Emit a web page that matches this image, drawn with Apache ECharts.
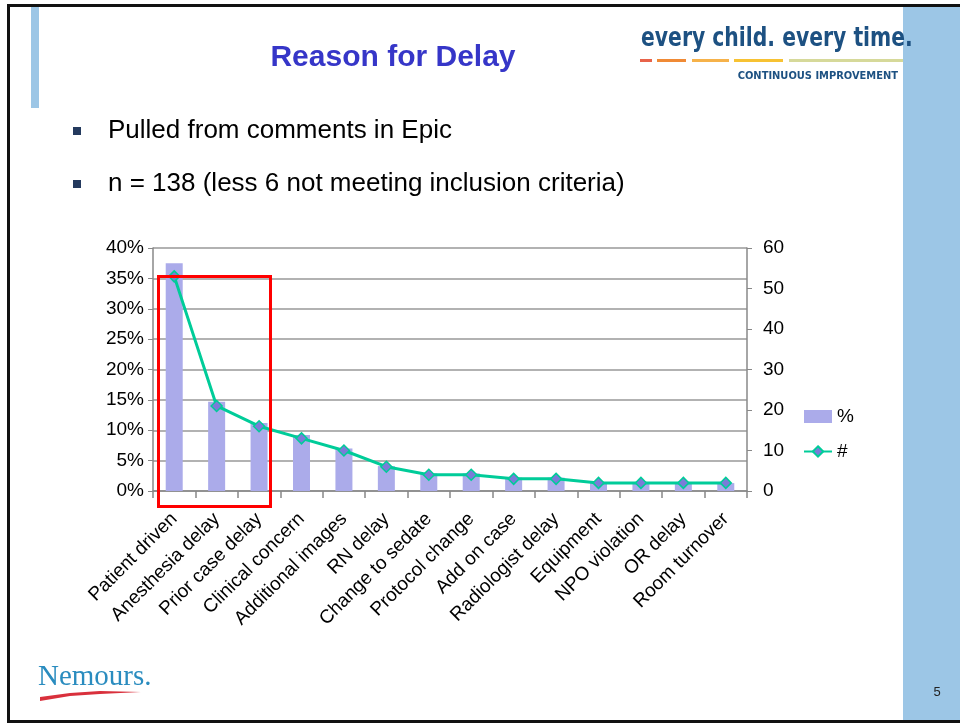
<!DOCTYPE html>
<html>
<head>
<meta charset="utf-8">
<script src="https://cdn.jsdelivr.net/npm/echarts@6/dist/echarts.min.js"></script>
<style>
html,body{margin:0;padding:0;background:#fff;}
#main{width:960px;height:723px;}
</style>
</head>
<body>
<div id="main"></div>
<script>
const categories = ["Patient driven","Anesthesia delay","Prior case delay","Clinical concern","Additional images","RN delay","Change to sedate","Protocol change","Add on case","Radiologist delay","Equipment","NPO violation","OR delay","Room turnover"];
const pctValues = [37.5, 14.7, 11.2, 9.2, 7.0, 4.1, 2.9, 2.9, 2.2, 2.2, 1.4, 1.4, 1.4, 1.3];
const countValues = [53, 21, 16, 13, 10, 6, 4, 4, 3, 3, 2, 2, 2, 2];
const titleText = "Reason for Delay";
const bullets = ["Pulled from comments in Epic", "n = 138 (less 6 not meeting inclusion criteria)"];

const chart = echarts.init(document.getElementById('main'), null, {renderer: 'canvas'});
const sans = '"Liberation Sans", Arial, sans-serif';

const option = {
  animation: false,
  backgroundColor: '#fff',
  grid: {left: 153, right: 213, top: 248, bottom: 232, containLabel: false},
  legend: {
    orient: 'vertical',
    left: 803, top: 407,
    padding: 0,
    itemGap: 16,
    itemWidth: 28, itemHeight: 13,
    textStyle: {fontFamily: sans, fontSize: 19, color: '#000'},
    data: [{name: '%', icon: 'rect'}, {name: '#'}]
  },
  xAxis: {
    type: 'category',
    data: categories,
    axisLine: {lineStyle: {color: '#888', width: 1.5}},
    axisTick: {show: true, length: 7, lineStyle: {color: '#888', width: 1.5}},
    axisLabel: {rotate: 45, interval: 0, fontFamily: sans, fontSize: 19, color: '#000', margin: 25}
  },
  yAxis: [{
    type: 'value', min: 0, max: 40, interval: 5,
    axisLine: {show: true, lineStyle: {color: '#888', width: 1.5}},
    axisTick: {show: true, length: 5, lineStyle: {color: '#888'}},
    splitLine: {show: true, lineStyle: {color: '#999', width: 1.5}},
    axisLabel: {formatter: v => v + '%', fontFamily: sans, fontSize: 19, color: '#000', margin: 9}
  }, {
    type: 'value', min: 0, max: 60, interval: 10,
    axisLine: {show: true, lineStyle: {color: '#888', width: 1.5}},
    axisTick: {show: true, length: 5, lineStyle: {color: '#888'}},
    splitLine: {show: false},
    axisLabel: {fontFamily: sans, fontSize: 19, color: '#000', margin: 16}
  }],
  series: [{
    name: '%', type: 'bar', yAxisIndex: 0, data: pctValues,
    barWidth: 17,
    itemStyle: {color: '#ABABEA'}
  }, {
    name: '#', type: 'line', yAxisIndex: 1, data: countValues,
    symbol: 'diamond', symbolSize: 11,
    lineStyle: {color: '#00CC99', width: 3},
    itemStyle: {color: '#7B7BD8', borderColor: '#00CC99', borderWidth: 1.5}
  }],
  graphic: [
    {type: 'rect', shape: {x: 903, y: 6, width: 57, height: 717}, style: {fill: '#9CC6E6'}, silent: true},
    {type: 'rect', shape: {x: 7, y: 4, width: 953, height: 3}, style: {fill: '#111'}},
    {type: 'rect', shape: {x: 7, y: 4, width: 3, height: 719}, style: {fill: '#111'}},
    {type: 'rect', shape: {x: 7, y: 720, width: 953, height: 3}, style: {fill: '#111'}},
    {type: 'rect', shape: {x: 31, y: 7, width: 8, height: 101}, style: {fill: '#9CC6E6'}},
    {type: 'text', x: 393, y: 58, style: {text: titleText, fontFamily: sans, fontWeight: 'bold', fontSize: 30, fill: '#3636C8', textAlign: 'center', textVerticalAlign: 'middle'}},
    {type: 'rect', shape: {x: 73, y: 127, width: 8, height: 8}, style: {fill: '#243A5E'}},
    {type: 'text', x: 108, y: 131, style: {text: bullets[0], fontFamily: sans, fontSize: 26, fill: '#000', textVerticalAlign: 'middle'}},
    {type: 'rect', shape: {x: 73, y: 180, width: 8, height: 8}, style: {fill: '#243A5E'}},
    {type: 'text', x: 108, y: 184, style: {text: bullets[1], fontFamily: sans, fontSize: 26, fill: '#000', textVerticalAlign: 'middle'}},
    {type: 'text', x: 641, y: 39, scaleX: 0.87, style: {text: 'every child. every time.', fontFamily: '"DejaVu Sans Condensed", "DejaVu Sans", sans-serif', fontWeight: 'bold', fontSize: 26, fill: '#1D5182', textVerticalAlign: 'middle'}},
    {type: 'rect', shape: {x: 640, y: 59, width: 12, height: 3}, style: {fill: '#E8634A'}},
    {type: 'rect', shape: {x: 657, y: 59, width: 29, height: 3}, style: {fill: '#F08A35'}},
    {type: 'rect', shape: {x: 692, y: 59, width: 37, height: 3}, style: {fill: '#F6B24A'}},
    {type: 'rect', shape: {x: 734, y: 59, width: 49, height: 3}, style: {fill: '#F7C233'}},
    {type: 'rect', shape: {x: 789, y: 59, width: 114, height: 3}, style: {fill: '#D6D99A'}},
    {type: 'text', x: 898, y: 76, style: {text: 'CONTINUOUS IMPROVEMENT', fontFamily: '"DejaVu Sans Condensed", "DejaVu Sans", sans-serif', fontWeight: 'bold', fontSize: 11, fill: '#1D5182', textAlign: 'right', textVerticalAlign: 'middle'}},
    {type: 'text', x: 38, y: 677, style: {text: 'Nemours.', fontFamily: '"Liberation Serif", "DejaVu Serif", serif', fontSize: 29, fill: '#2A8CBF', textVerticalAlign: 'middle', letterSpacing: -1}},
    {type: 'polygon', shape: {points: [[40,697],[70,693],[100,691],[141,692],[100,694],[70,696],[40,701]]}, style: {fill: '#D9303C'}},
    {type: 'text', x: 937, y: 692, style: {text: '5', fontFamily: sans, fontSize: 13, fill: '#222', textAlign: 'center', textVerticalAlign: 'middle'}},
    {type: 'rect', z: 100, shape: {x: 158.5, y: 276.5, width: 112, height: 230}, style: {fill: 'none', stroke: '#FF0000', lineWidth: 3}}
  ]
};
chart.setOption(option);
</script>
</body>
</html>
